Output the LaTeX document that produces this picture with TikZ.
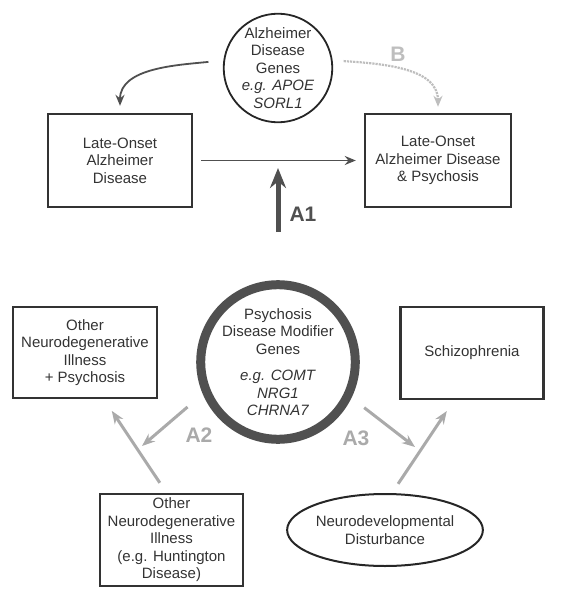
\documentclass[tikz,border=0pt]{standalone}
\usepackage{fontspec}
\setmainfont{Liberation Sans}
\usetikzlibrary{shapes.geometric,arrows.meta}
\definecolor{textgray}{RGB}{51,51,51}
\definecolor{darkgray}{RGB}{80,80,80}
\definecolor{lightgray}{RGB}{170,170,170}
\definecolor{dotgray}{RGB}{190,190,190}

\begin{document}
\begin{tikzpicture}[x=1pt, y=-1pt,
    box/.style={rectangle, draw=textgray, line width=2.4pt, align=center, inner sep=0pt, text=textgray, font=\fontsize{15}{17.5}\selectfont},
    genes/.style={circle, draw=black!85, line width=1.8pt, align=center, inner sep=0pt, minimum size=106pt, text=textgray, font=\fontsize{15}{17.5}\selectfont},
    darkarrow/.style={-{Stealth[length=11pt,width=9pt]}, line width=1.8pt, darkgray},
    grayarrow/.style={-{Stealth[length=13pt,width=10pt]}, line width=3pt, lightgray},
    tag/.style={font=\fontsize{21}{21}\selectfont\bfseries}
]
    \useasboundingbox (0,0) rectangle (561,601);

    % Top row
    \node[genes] (adgenes) at (278,68) {Alzheimer\\Disease\\Genes\\\textit{e.g. APOE}\\\textit{SORL1}};
    \node[box, minimum width=144pt, minimum height=93pt] (load) at (120,160.5) {Late-Onset\\Alzheimer\\Disease};
    \node[box, minimum width=146pt, minimum height=93pt] (loadpsy) at (438,160.5) {Late-Onset\\Alzheimer Disease\\\& Psychosis};

    % Middle row
    \node[genes, draw=darkgray, line width=9pt, minimum size=123pt] (modifier) at (278,362) {Psychosis\\Disease Modifier\\Genes\\[9pt]\textit{e.g. COMT}\\\textit{NRG1}\\\textit{CHRNA7}};
    \node[box, minimum width=144pt, minimum height=91pt] (otherpsy) at (85,352.5) {Other\\Neurodegenerative\\Illness\\+ Psychosis};
    \node[box, minimum width=143pt, minimum height=92pt] (schizo) at (472,353) {Schizophrenia};

    % Bottom row
    \node[box, minimum width=143pt, minimum height=92pt] (otherill) at (171.5,540) {Other\\Neurodegenerative\\Illness\\(e.g. Huntington\\Disease)};
    \node[ellipse, draw=black!85, line width=2pt, minimum width=156pt, minimum height=72pt, inner sep=0pt, align=center, text=textgray, font=\fontsize{15}{17.5}\selectfont] (neurodev) at (385,530) {Neurodevelopmental\\Disturbance};

    % Free arrow ends
    \coordinate (a1tip) at (278,168);
    \coordinate (a2tip) at (142,446);
    \coordinate (a3tip) at (415,447);

    % Arrows top row
    \draw[darkarrow, shorten <=15pt, shorten >=7pt] (adgenes.172) to[out=186, in=90] (load.north);
    \draw[dotgray, densely dotted, line width=2.2pt, -{Stealth[length=11pt,width=9pt]}, shorten <=11pt, shorten >=6pt] (adgenes.8) to[out=-4, in=90] (loadpsy.north);
    \draw[darkarrow, shorten <=8pt, shorten >=8pt] (load) -- (loadpsy);

    % Arrow A1
    \draw[darkgray, line width=5pt, -{Stealth[length=20pt,width=16pt]}, shorten <=48pt] (modifier) -- (a1tip);

    % Arrows A2 and A3
    \draw[grayarrow, shorten <=20pt] (modifier.203) -- (a2tip);
    \draw[grayarrow, shorten <=16pt] (modifier.334) -- (a3tip);
    \draw[grayarrow, shorten <=12pt, shorten >=14pt] ([xshift=-5pt]otherill.north) -- ([xshift=19pt]otherpsy.south);
    \draw[grayarrow, shorten <=11pt, shorten >=13pt] ([xshift=7pt]neurodev.north) -- ([xshift=-18pt]schizo.south);

    % Labels
    \node[tag, darkgray] (labA1) at (303,214) {A1};
    \node[tag, lightgray] (labA2) at (199,435) {A2};
    \node[tag, lightgray] (labA3) at (356,438) {A3};
    \node[tag, dotgray] (labB) at (398,54) {B};
\end{tikzpicture}
\end{document}
